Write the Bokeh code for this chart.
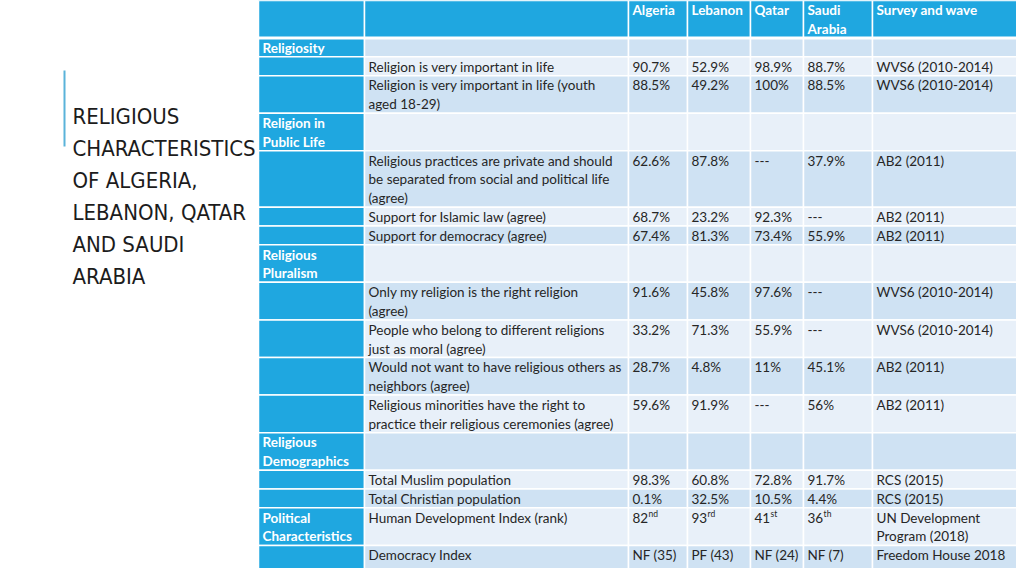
import re
from bokeh.plotting import figure
from bokeh.models import Range1d, ColumnDataSource
from bokeh.core.properties import value
from bokeh.embed import file_html
from bokeh.resources import INLINE

# ---------------- data ----------------
title_lines = ["RELIGIOUS", "CHARACTERISTICS", "OF ALGERIA,", "LEBANON, QATAR", "AND SAUDI", "ARABIA"]

header = ["", "", "Algeria", "Lebanon", "Qatar", "Saudi\nArabia", "Survey and wave"]

row_category = ["Religiosity", "", "", "Religion in\nPublic Life", "", "", "", "Religious\nPluralism",
                "", "", "", "", "Religious\nDemographics", "", "", "Political\nCharacteristics", ""]
row_label = ["", "Religion is very important in life",
             "Religion is very important in life (youth\naged 18-29)", "",
             "Religious practices are private and should\nbe separated from social and political life\n(agree)",
             "Support for Islamic law (agree)", "Support for democracy (agree)", "",
             "Only my religion is the right religion\n(agree)",
             "People who belong to different religions\njust as moral (agree)",
             "Would not want to have religious others as\nneighbors (agree)",
             "Religious minorities have the right to\npractice their religious ceremonies (agree)", "",
             "Total Muslim population", "Total Christian population",
             "Human Development Index (rank)", "Democracy Index"]
algeria = ["", "90.7%", "88.5%", "", "62.6%", "68.7%", "67.4%", "", "91.6%", "33.2%", "28.7%", "59.6%",
           "", "98.3%", "0.1%", "82nd", "NF (35)"]
lebanon = ["", "52.9%", "49.2%", "", "87.8%", "23.2%", "81.3%", "", "45.8%", "71.3%", "4.8%", "91.9%",
           "", "60.8%", "32.5%", "93rd", "PF (43)"]
qatar = ["", "98.9%", "100%", "", "---", "92.3%", "73.4%", "", "97.6%", "55.9%", "11%", "---",
         "", "72.8%", "10.5%", "41st", "NF (24)"]
saudi = ["", "88.7%", "88.5%", "", "37.9%", "---", "55.9%", "", "---", "---", "45.1%", "56%",
         "", "91.7%", "4.4%", "36th", "NF (7)"]
survey = ["", "WVS6 (2010-2014)", "WVS6 (2010-2014)", "", "AB2 (2011)", "AB2 (2011)", "AB2 (2011)", "",
          "WVS6 (2010-2014)", "WVS6 (2010-2014)", "AB2 (2011)", "AB2 (2011)", "",
          "RCS (2015)", "RCS (2015)", "UN Development\nProgram (2018)", "Freedom House 2018"]

# ---------------- layout / style ----------------
W, H = 1016, 568
FONT = "Lato"
TITLE_FONT = "'DejaVu Sans Condensed', 'Roboto Condensed', 'Liberation Sans Narrow', 'DejaVu Sans', sans-serif"
FS = "13.5px"
DIGIT_W = 7.8
LH = 18.79
col_edges = [258, 364, 628, 687, 750, 803, 872, 1030]
HEAD_BLUE = "#1fa7e0"
BAND_DARK = "#cfe2f3"
BAND_LIGHT = "#e8f0f9"
TEXT_DARK = "#262626"

p = figure(width=W, height=H, output_backend="svg", toolbar_location=None,
           x_range=Range1d(0, W), y_range=Range1d(H, 0),
           x_axis_type=None, y_axis_type=None, min_border=0)
p.outline_line_color = None
p.grid.visible = False
p.background_fill_color = "white"

# accent line + title
p.segment(x0=[64], y0=[70], x1=[64], y1=[146], line_color="#5ab3da", line_width=2)
p.text(x=[72] * len(title_lines), y=[116 + 32 * i for i in range(len(title_lines))], text=title_lines,
       text_font=value(TITLE_FONT), text_font_size="22px", text_color="#1c1c1c",
       text_baseline="middle", text_align="left")

# build cells
columns = [row_category, row_label, algeria, lebanon, qatar, saudi, survey]
rows = [header] + [[c[i] for c in columns] for i in range(len(row_label))]

q = dict(left=[], right=[], top=[], bottom=[], color=[])
t_norm = dict(x=[], y=[], text=[])
t_bold = dict(x=[], y=[], text=[])
t_sup = dict(x=[], y=[], text=[])

y = 0.0
for r, row in enumerate(rows):
    nlines = max(1, max(len(s.split("\n")) for s in row))
    h = nlines * LH
    bottom = y + h
    if r == len(rows) - 1:
        bottom = H + 10
    for c in range(len(col_edges) - 1):
        if r == 0 or c == 0:
            col = HEAD_BLUE
        else:
            col = BAND_DARK if r % 2 == 1 else BAND_LIGHT
        q["left"].append(col_edges[c]); q["right"].append(col_edges[c + 1])
        q["top"].append(y); q["bottom"].append(bottom); q["color"].append(col)
        txt = row[c]
        if not txt:
            continue
        x0 = col_edges[c] + 4
        for li, line in enumerate(txt.split("\n")):
            yy = y + 9.8 + li * LH
            target = t_bold if (r == 0 or c == 0) else t_norm
            m = re.match(r"^(\d+)(st|nd|rd|th)$", line)
            if m:
                target["x"].append(x0); target["y"].append(yy); target["text"].append(m.group(1))
                t_sup["x"].append(x0 + DIGIT_W * len(m.group(1)) + 0.5); t_sup["y"].append(yy - 3.5)
                t_sup["text"].append(m.group(2))
            else:
                target["x"].append(x0); target["y"].append(yy); target["text"].append(line)
    y += h

p.quad(source=ColumnDataSource(q), left="left", right="right", top="top", bottom="bottom",
       fill_color="color", line_color="white", line_width=1.5)
# thicker separator under header
p.segment(x0=[col_edges[0]], y0=[2 * LH], x1=[W + 10], y1=[2 * LH], line_color="white", line_width=3)

p.text(source=ColumnDataSource(t_norm), x="x", y="y", text="text", text_font=value(FONT),
       text_font_size=FS, text_color=TEXT_DARK, text_baseline="middle", text_align="left")
p.text(source=ColumnDataSource(t_bold), x="x", y="y", text="text", text_font=value(FONT),
       text_font_size=FS, text_font_style="bold", text_color="white",
       text_baseline="middle", text_align="left")
p.text(source=ColumnDataSource(t_sup), x="x", y="y", text="text", text_font=value(FONT),
       text_font_size="8.5px", text_color=TEXT_DARK, text_baseline="middle", text_align="left")

open("out.html", "w").write(file_html(p, INLINE))
